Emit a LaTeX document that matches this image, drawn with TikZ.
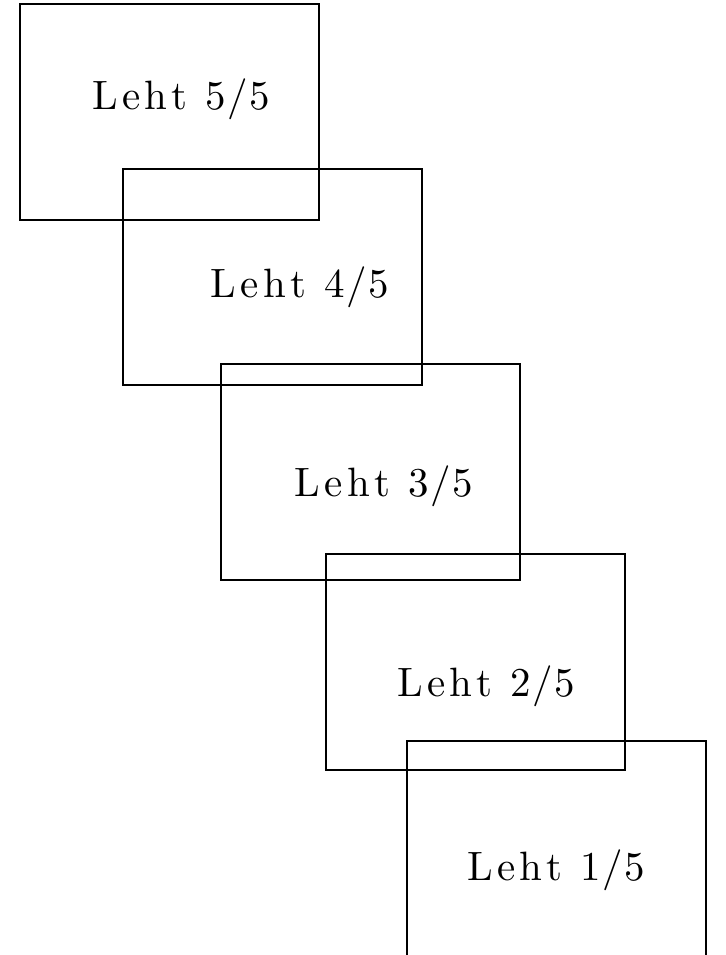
\documentclass[tikz,border=0pt]{standalone}
\usepackage{graphicx}
\tikzset{
  sheet/.style={draw, line width=2pt, minimum width=299pt, minimum height=216pt, inner sep=0pt},
  sheetlabel/.style={anchor=base, inner sep=0pt},
}
\newcommand{\trk}{\kern1.05pt}
\newcommand{\trks}{\kern.35pt}
\newcommand{\lehtlabel}[1]{\scalebox{4.1}{\fontsize{10}{12}\selectfont L\trk e\trk h\trk t\trk\ #1\trks/\trks 5}}
\begin{document}
\begin{tikzpicture}[x=1pt,y=-1pt]
\useasboundingbox (0,0) rectangle (725,955);
\clip (0,0) rectangle (725,955);
\node[sheet] (s5) at (169.7,112.2) {};
\node[sheet] (s4) at (272.3,277) {};
\node[sheet] (s3) at (370,471.7) {};
\node[sheet] (s2) at (475.5,662.2) {};
\node[sheet] (s1) at (556.5,849) {};
\node[sheetlabel] (t5) at (181.2,110) {\lehtlabel{5}};
\node[sheetlabel] (t4) at (299.7,297.7) {\lehtlabel{4}};
\node[sheetlabel] (t3) at (383.7,496.7) {\lehtlabel{3}};
\node[sheetlabel] (t2) at (486.3,696.7) {\lehtlabel{2}};
\node[sheetlabel] (t1) at (556.3,880.7) {\lehtlabel{1}};
\end{tikzpicture}
\end{document}
